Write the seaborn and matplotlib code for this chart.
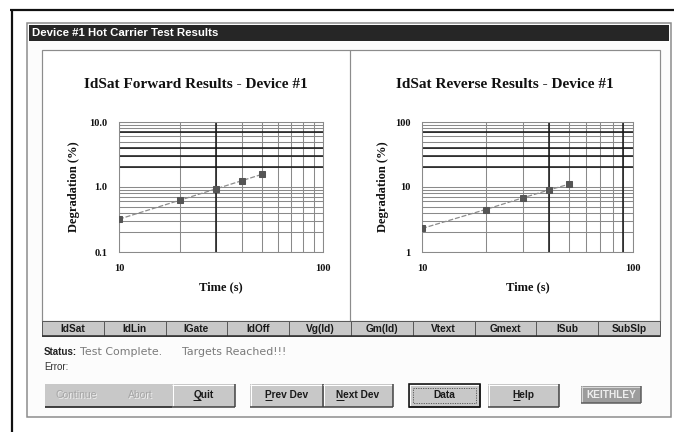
import matplotlib
matplotlib.use("Agg")
import matplotlib.pyplot as plt
import seaborn as sns
import pandas as pd
from matplotlib.patches import Rectangle
from matplotlib.ticker import NullFormatter

# ---------------- data ----------------
times = [10, 20, 30, 40, 50]
fwd_degradation = [0.32, 0.63, 0.94, 1.25, 1.56]
rev_degradation = [2.3, 4.5, 6.8, 9.0, 11.1]

fwd_yticks = [0.1, 1, 10]
fwd_ylabels = ["0.1", "1.0", "10.0"]
rev_yticks = [1, 10, 100]
rev_ylabels = ["1", "10", "100"]
xticks = [10, 100]
xlabels = ["10", "100"]

titles = ["IdSat Forward Results - Device #1", "IdSat Reverse Results - Device #1"]
window_title = "Device #1 Hot Carrier Test Results"
tab_labels = ["IdSat", "IdLin", "IGate", "IdOff", "Vg(Id)",
              "Gm(Id)", "Vtext", "Gmext", "ISub", "SubSlp"]

# darker grid lines seen in the screenshot (rendering artefacts)
fwd_dark_h = [2, 3, 4, 7]
rev_dark_h = [20, 30, 40, 70]
fwd_dark_v = [30]
rev_dark_v = [40, 90]

# ---------------- figure ----------------
sns.set_style("white")
plt.rcParams['font.family'] = ['Liberation Serif', 'DejaVu Serif']

W, H = 674, 432
fig = plt.figure(figsize=(W / 100, H / 100), dpi=100)
fig.patch.set_facecolor("white")

ui = fig.add_axes([0, 0, 1, 1])
ui.set_xlim(0, W)
ui.set_ylim(H, 0)
ui.axis("off")
ui.set_zorder(0)

PX = 0.72  # 1 pixel in points
SANS = ['Liberation Sans', 'DejaVu Sans']
WIDE = ['DejaVu Sans']


def rect(x0, y0, x1, y1, fc, ec="none", lw=0.0, z=1, ls="-"):
    ui.add_patch(Rectangle((x0, y0), x1 - x0, y1 - y0, facecolor=fc,
                           edgecolor=ec, linewidth=lw * PX, zorder=z, linestyle=ls))


def line(xs, ys, c, lw=1.0, z=2):
    ui.plot(xs, ys, color=c, lw=lw * PX, zorder=z, solid_capstyle="butt")


def bevel(x0, y0, x1, y1, light="#ffffff", dark="#404040", z=3):
    line([x0, x1], [y0 + 0.5, y0 + 0.5], light, 1, z)
    line([x0 + 0.5, x0 + 0.5], [y0, y1], light, 1, z)
    line([x0, x1], [y1 - 0.5, y1 - 0.5], dark, 1.5, z)
    line([x1 - 0.5, x1 - 0.5], [y0, y1], dark, 1.5, z)


# outer black frame
line([10, W], [9.5, 9.5], "#111111", 2.2)
line([12, 12], [9, H], "#111111", 2.2)

# window
rect(27, 23, 671, 417, "#fcfcfc", "#8a8a8a", 1.5, z=1)
rect(29, 25, 669, 41, "#262626", z=2)
ui.text(32, 33.5, window_title, ha="left", va="center", color="white",
        fontsize=8.2, fontweight="bold", family=SANS, zorder=3)

# chart panel
rect(42, 50, 660, 321, "white", "#8c8c8c", 1.2, z=2)
line([350, 350], [50, 321], "#8c8c8c", 1.2, z=3)

# tab row
n = len(tab_labels)
tw = (660 - 42) / n
for i, lab in enumerate(tab_labels):
    x0 = 42 + i * tw
    rect(x0, 321, x0 + tw, 336, "#c8c8c8", "#5a5a5a", 1, z=3)
    ui.text(x0 + tw / 2, 328.8, lab, ha="center", va="center", color="#1a1a1a",
            fontsize=7.3, fontweight="bold", family=SANS, zorder=4)
line([42, 660], [336, 336], "#303030", 1.6, z=4)

# status lines
ui.text(44, 352, "Status:", ha="left", va="center", color="#222222",
        fontsize=7.0, fontweight="bold", family=SANS, zorder=3)
ui.text(80, 352, "Test Complete.", ha="left", va="center",
        color="#7a7a7a", fontsize=7.9, family=WIDE, zorder=3)
ui.text(182, 352, "Targets Reached!!!", ha="left", va="center",
        color="#7a7a7a", fontsize=7.9, family=WIDE, zorder=3)
ui.text(44, 367, "Error:", ha="left", va="center", color="#333333",
        fontsize=7.0, family=SANS, zorder=3)

# buttons
BY0, BY1 = 384, 407
BYC = (BY0 + BY1) / 2
# Continue / Abort (disabled) group
rect(45, BY0, 172, BY1, "#c8c8c8", z=2)
line([45, 172], [BY1 - 0.5, BY1 - 0.5], "#303030", 1.8, z=3)
for lab, xc in [("Continue", 76), ("Abort", 140)]:
    ui.text(xc + 0.8, BYC + 0.8, lab, ha="center", va="center", color="#ececec",
            fontsize=7.5, family=SANS, zorder=3)
    ui.text(xc, BYC, lab, ha="center", va="center", color="#a6a6a6",
            fontsize=7.5, family=SANS, zorder=4)

underline_jobs = []
buttons = [("Quit", 172, 235), ("Prev Dev", 250, 323), ("Next Dev", 323, 393),
           ("Data", 409, 480), ("Help", 488, 559)]
for lab, x0, x1 in buttons:
    rect(x0, BY0, x1, BY1, "#c8c8c8", z=2)
    bevel(x0, BY0, x1, BY1)
    t = ui.text((x0 + x1) / 2, BYC, lab, ha="center", va="center", color="#1a1a1a",
                fontsize=7.3, fontweight="bold", family=SANS, zorder=4)
    if lab != "Data":
        underline_jobs.append((t, lab[0]))
# Data: default button with dark border and focus rectangle
rect(409, BY0, 480, BY1, "none", "#111111", 1.6, z=5)
rect(413, BY0 + 4, 476, BY1 - 4, "none", "#444444", 0.8, z=5, ls=(0, (1.5, 1.5)))

# KEITHLEY logo
rect(581, 386, 641, 403, "#9c9c9c", z=2)
bevel(581, 386, 641, 403, light="#d8d8d8", dark="#5a5a5a")
ui.text(611, 394.5, "KEITHLEY", ha="center", va="center", color="#eeeeee",
        fontsize=7.3, fontweight="bold", family=SANS, zorder=4)

# ---------------- charts ----------------
specs = [
    dict(left=119, right=323, y=fwd_degradation, yticks=fwd_yticks, ylabels=fwd_ylabels,
         ylim=(0.1, 10), dark_h=fwd_dark_h, dark_v=fwd_dark_v, title=titles[0],
         tx=196, ylab_x=-0.22),
    dict(left=422, right=633, y=rev_degradation, yticks=rev_yticks, ylabels=rev_ylabels,
         ylim=(1, 100), dark_h=rev_dark_h, dark_v=rev_dark_v, title=titles[1],
         tx=505, ylab_x=-0.185),
]
TOP, BOT = 122, 252

for s in specs:
    ax = fig.add_axes([s["left"] / W, 1 - BOT / H, (s["right"] - s["left"]) / W, (BOT - TOP) / H])
    ax.set_zorder(2)
    ax.patch.set_alpha(0)
    df = pd.DataFrame({"Time": times, "Degradation": s["y"]})
    sns.lineplot(data=df, x="Time", y="Degradation", ax=ax, color="#8c8c8c",
                 linewidth=0.9, linestyle=(0, (4, 1.5)), marker="s", markersize=4.0,
                 markerfacecolor="#555555", markeredgecolor="#555555", zorder=5)
    ax.set_xscale("log")
    ax.set_yscale("log")
    ax.set_xlim(10, 100)
    ax.set_ylim(*s["ylim"])
    ax.set_xticks(xticks, labels=xlabels)
    ax.set_yticks(s["yticks"], labels=s["ylabels"])
    ax.xaxis.set_minor_formatter(NullFormatter())
    ax.yaxis.set_minor_formatter(NullFormatter())
    ax.set_axisbelow(True)
    ax.grid(which="both", color="#8a8a8a", linewidth=0.75)
    for v in s["dark_h"]:
        ax.axhline(v, color="#151515", linewidth=1.1, zorder=1)
    for v in s["dark_v"]:
        ax.axvline(v, color="#151515", linewidth=1.1, zorder=1)
    for sp in ax.spines.values():
        sp.set_color("#8a8a8a")
        sp.set_linewidth(0.75)
    ax.tick_params(which="major", direction="out", length=4, width=0.75,
                   color="#7a7a7a", labelsize=7.5, pad=4.5, labelcolor="#111111")
    ax.tick_params(which="minor", length=0)
    for lab in ax.get_xticklabels() + ax.get_yticklabels():
        lab.set_fontweight("bold")
    ax.set_xlabel("Time (s)", fontsize=9, fontweight="bold", color="#111111")
    ax.set_ylabel("Degradation (%)", fontsize=9, fontweight="bold", color="#111111")
    ax.xaxis.label.set_va("center")
    ax.yaxis.label.set_va("center")
    ax.xaxis.set_label_coords(0.5, -(287 - BOT) / (BOT - TOP))
    ax.yaxis.set_label_coords(s["ylab_x"], 0.5)
    fig.text(s["tx"] / W, 1 - 84 / H, s["title"], ha="center", va="center",
             fontsize=11, fontweight="bold", color="#111111")

# underlines for accelerator keys
fig.canvas.draw()
r = fig.canvas.get_renderer()
inv = ui.transData.inverted()
for t, ch in underline_jobs:
    bb = t.get_window_extent(r)
    tmp = ui.text(0, 0, ch, fontsize=7.3, fontweight="bold", family=SANS)
    w = tmp.get_window_extent(r).width
    tmp.remove()
    xa, ya = inv.transform((bb.x0, bb.y0))
    xb, _ = inv.transform((bb.x0 + w, bb.y0))
    line([xa, xb], [ya - 1.0, ya - 1.0], "#1a1a1a", 1, z=5)

fig.savefig("out.png", dpi=100, facecolor="white")
